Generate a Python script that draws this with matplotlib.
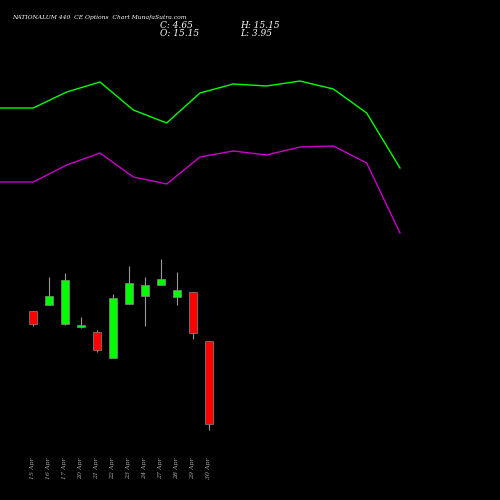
import matplotlib
matplotlib.use("Agg")
import matplotlib.pyplot as plt

dates = ["15 Apr","16 Apr","17 Apr","20 Apr","21 Apr","22 Apr","23 Apr","24 Apr","27 Apr","28 Apr","29 Apr","30 Apr"]
opens = [18.94,19.70,17.30,16.92,16.29,13.00,19.83,20.84,22.23,20.72,21.35,15.15]
closes = [17.30,20.84,22.87,17.17,14.01,20.59,22.49,22.23,22.99,21.60,16.16,4.65]
highs = [18.94,23.25,23.75,18.19,16.54,21.09,24.64,23.25,25.52,23.88,21.35,15.15]
lows = [17.05,19.70,17.17,16.79,13.76,13.00,19.83,17.05,22.23,19.70,15.40,3.95]
green_line = [392,392,408,418,390,377,407,416,414,419,411,387,332]
magenta_line = [318,318,335,347,323,316,343,349,345,353,354,337,267]

fig = plt.figure(figsize=(5,5), dpi=100, facecolor="black")
ax2 = fig.add_axes([0,0,1,1], facecolor="black")
ax2.set_xlim(0, 15.0)
ax2.set_ylim(0, 500)
ax2.plot(range(len(green_line)), green_line, color="#00ff00", lw=1)
ax2.plot(range(len(magenta_line)), magenta_line, color="#cc00cc", lw=1)
ax2.axis("off")

ax = fig.add_axes([0,0,1,1], facecolor="none")
ax.set_xlim(-2.0625, 29.19)
ax.set_ylim(-4.96, 58.29)
ax.axis("off")
for i,(o,c,h,l) in enumerate(zip(opens,closes,highs,lows)):
    col = "#00ff00" if c >= o else "#ff0000"
    ax.vlines(i, l, h, color="#999999", lw=0.8, zorder=1)
    ax.bar(i, abs(c-o) if abs(c-o)>0.15 else 0.15, bottom=min(o,c), width=0.55, color=col, edgecolor="#888888", lw=0.5, zorder=2)
    ax.text(i, -1.0, dates[i], rotation=90, color="#aaaaaa", fontsize=4.5, ha="center", va="center", family="DejaVu Serif", style="italic")

fig.text(0.025, 0.965, "NATIONALUM 440  CE Options  Chart MunafaSutra.com", color="white", fontsize=4.3, family="DejaVu Serif", style="italic", va="center")
fig.text(0.32, 0.95, "C: 4.65", color="white", fontsize=6.5, family="DejaVu Serif", style="italic", va="center")
fig.text(0.32, 0.933, "O: 15.15", color="white", fontsize=6.5, family="DejaVu Serif", style="italic", va="center")
fig.text(0.48, 0.95, "H: 15.15", color="white", fontsize=6.5, family="DejaVu Serif", style="italic", va="center")
fig.text(0.48, 0.933, "L: 3.95", color="white", fontsize=6.5, family="DejaVu Serif", style="italic", va="center")
fig.savefig("out.png", facecolor="black")
